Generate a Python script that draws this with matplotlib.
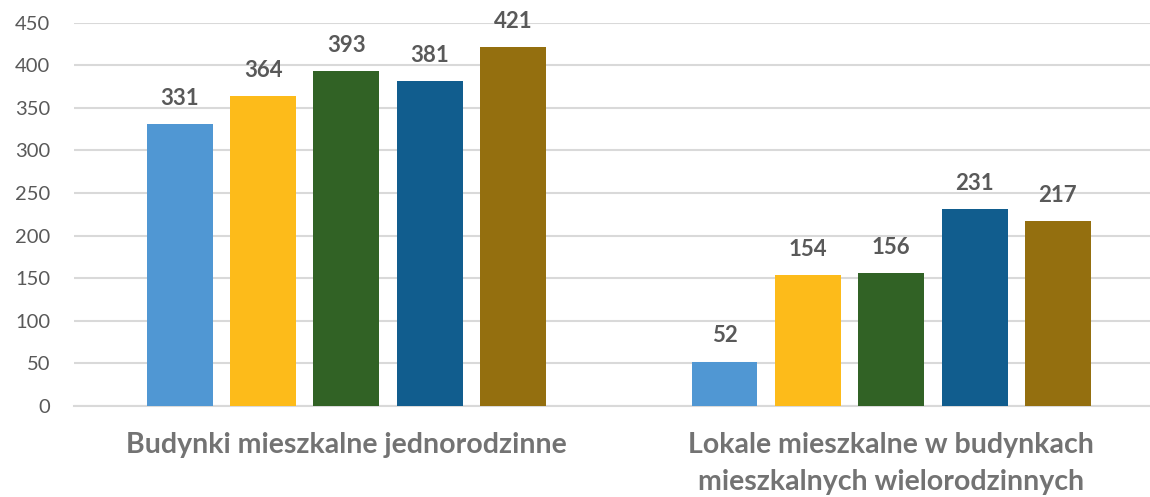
import matplotlib.pyplot as plt
import numpy as np

# Liczba obiektów wg kategorii, pięć kolejnych okresów
categories = ['Budynki mieszkalne jednorodzinne',
              'Lokale mieszkalne w budynkach\nmieszkalnych wielorodzinnych']
series_1 = [331, 52]
series_2 = [364, 154]
series_3 = [393, 156]
series_4 = [381, 231]
series_5 = [421, 217]

colors = ['#5097D3', '#FDBB1A', '#316225', '#115D8E', '#946F0F']
all_series = [series_1, series_2, series_3, series_4, series_5]

plt.rcParams['font.family'] = ['Lato', 'DejaVu Sans']
text_color = '#595959'

fig = plt.figure(figsize=(11.5, 4.97), dpi=100)
ax = fig.add_axes([74 / 1150, 91 / 497, 1 - 74 / 1150, (406 - 22.7) / 497])

x = np.arange(len(categories))
step = 0.153
width = 0.121
for i, (vals, c) in enumerate(zip(all_series, colors)):
    pos = x + (i - 2) * step
    bars = ax.bar(pos, vals, width=width, color=c, zorder=3)
    for b, v in zip(bars, vals):
        ax.annotate(str(v), (b.get_x() + b.get_width() / 2, v),
                    xytext=(0, 11), textcoords='offset points',
                    ha='center', va='bottom', fontsize=16,
                    fontweight='bold', color=text_color)

ax.set_ylim(0, 450)
ax.set_xlim(-0.5, 1.475)
ax.set_yticks(range(0, 451, 50))
ax.yaxis.grid(True, color='#D9D9D9', linewidth=1.5, zorder=0)
ax.set_axisbelow(True)

for s in ['top', 'right', 'left']:
    ax.spines[s].set_visible(False)
ax.spines['bottom'].set_color('#D9D9D9')
ax.spines['bottom'].set_linewidth(1.5)

ax.tick_params(axis='y', length=0, pad=17, labelsize=14.5, labelcolor=text_color)
ax.tick_params(axis='x', length=0, pad=19)
ax.set_xticks(x)
ax.set_xticklabels(categories, fontsize=20.5, fontweight='bold',
                   color='#737373', linespacing=1.5, va='top')

fig.savefig('out.png', dpi=100)
